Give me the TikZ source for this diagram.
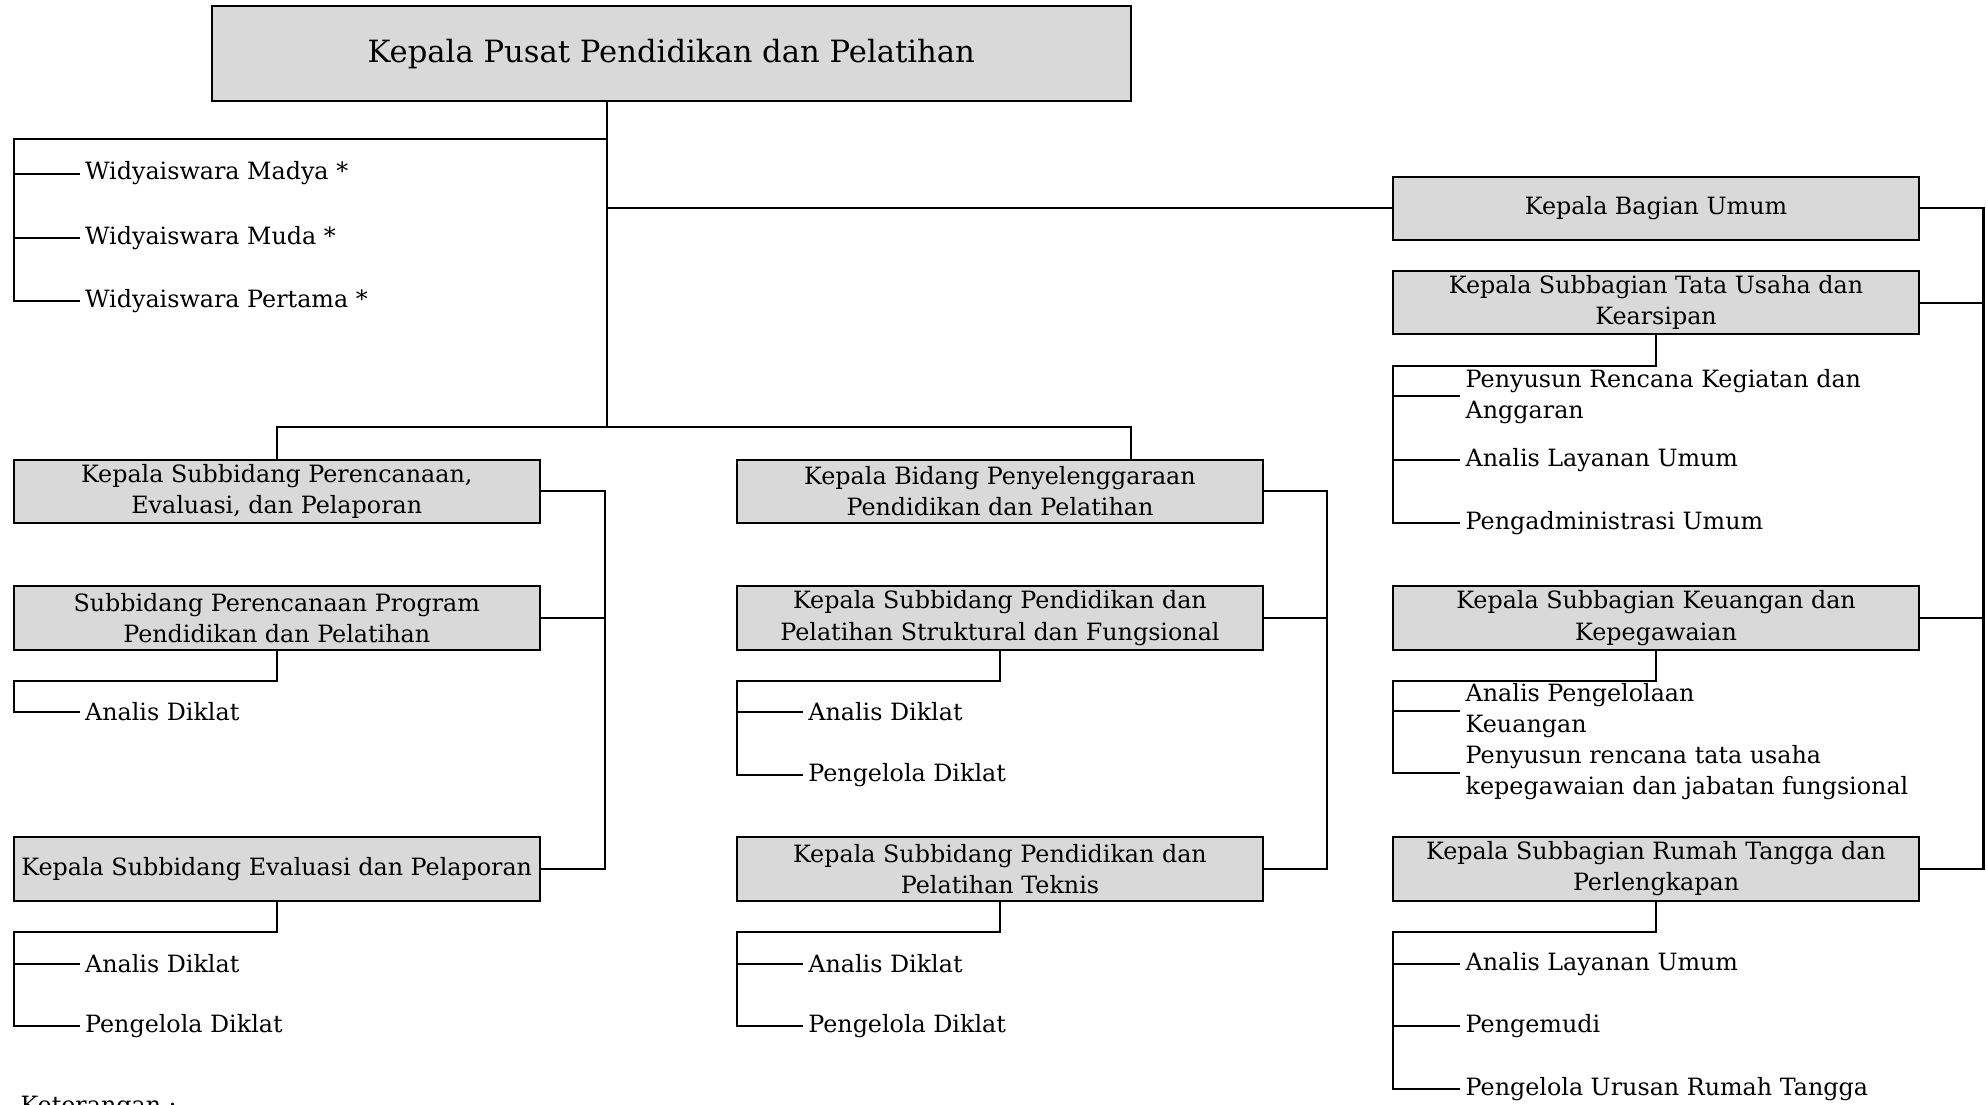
\documentclass[tikz,border=0pt]{standalone}
\usepackage{fontspec}
\setmainfont{DejaVu Serif}
\usetikzlibrary{calc}
\definecolor{boxgray}{HTML}{D9D9D9}
\newcommand{\bxfont}{\fontsize{18.8}{24.5}\selectfont}
\newcommand{\tpfont}{\fontsize{24.2}{28}\selectfont}
\newcommand{\lffont}{\fontsize{18.8}{24.5}\selectfont}
\begin{document}
\begin{tikzpicture}[x=1pt,y=-1pt,
  box/.style={draw, fill=boxgray, line width=1.6pt, minimum width=415pt, minimum height=50pt, inner sep=0pt, align=center, font=\bxfont},
  leaf/.style={anchor=west, inner xsep=4pt, inner ysep=0pt, align=left, font=\lffont},
  ln/.style={line width=1.6pt}]
\useasboundingbox (0,0) rectangle (1568,872);
% boxes
\node[box, minimum width=726pt, minimum height=75pt, font=\tpfont] (top) at (530,42.5) {Kepala Pusat Pendidikan dan Pelatihan};
\node[box] (bu)  at (1307.5,164.5) {Kepala Bagian Umum};
\node[box] (tu)  at (1307.5,239) {Kepala Subbagian Tata Usaha dan\\Kearsipan};
\node[box] (keu) at (1307.5,488) {Kepala Subbagian Keuangan dan\\Kepegawaian};
\node[box] (rt)  at (1307.5,686) {Kepala Subbagian Rumah Tangga dan\\Perlengkapan};
\node[box] (l1)  at (218.5,388) {Kepala Subbidang Perencanaan,\\Evaluasi, dan Pelaporan};
\node[box] (l2)  at (218.5,488) {Subbidang Perencanaan Program\\Pendidikan dan Pelatihan};
\node[box] (l3)  at (218.5,686) {Kepala Subbidang Evaluasi dan Pelaporan};
\node[box] (m1)  at (789.5,388) {Kepala Bidang Penyelenggaraan\\Pendidikan dan Pelatihan};
\node[box] (m2)  at (789.5,488) {Kepala Subbidang Pendidikan dan\\Pelatihan Struktural dan Fungsional};
\node[box] (m3)  at (789.5,686) {Kepala Subbidang Pendidikan dan\\Pelatihan Teknis};
% leaves
\node[leaf] (w1) at (63,137) {Widyaiswara Madya *};
\node[leaf] (w2) at (63,188) {Widyaiswara Muda *};
\node[leaf] (w3) at (63,238) {Widyaiswara Pertama *};
\node[leaf] (l2a) at (63,562) {Analis Diklat};
\node[leaf] (l3a) at (63,761) {Analis Diklat};
\node[leaf] (l3b) at (63,810) {Pengelola Diklat};
\node[leaf] (m2a) at (634,562) {Analis Diklat};
\node[leaf] (m2b) at (634,612) {Pengelola Diklat};
\node[leaf] (m3a) at (634,761) {Analis Diklat};
\node[leaf] (m3b) at (634,810) {Pengelola Diklat};
\node[leaf] (tu1) at (1153,313) {Penyusun Rencana Kegiatan dan\\Anggaran};
\node[leaf] (tu2) at (1153,363) {Analis Layanan Umum};
\node[leaf] (tu3) at (1153,413) {Pengadministrasi Umum};
\node[leaf] (keu1) at (1153,561) {Analis Pengelolaan\\Keuangan};
\node[leaf] (keu2) at (1153,610) {Penyusun rencana tata usaha\\kepegawaian dan jabatan fungsional};
\node[leaf] (rt1) at (1153,761) {Analis Layanan Umum};
\node[leaf] (rt2) at (1153,810) {Pengemudi};
\node[leaf] (rt3) at (1153,860) {Pengelola Urusan Rumah Tangga};
\node[anchor=north west, inner sep=0pt, font=\lffont] (ket) at (16,865) {Keterangan :};
% junction coordinates
\coordinate (wj) at (479,110);
\coordinate (wb) at (11,110);
\coordinate (hb) at (479,337);
\coordinate (mt) at (893,337);
\coordinate (lbx) at (478,388);
\coordinate (mbx) at (1048,388);
\coordinate (rbx) at (1566,164.5);
\coordinate (l2j) at (11,538);
\coordinate (l3j) at (11,736);
\coordinate (m2j) at (582,538);
\coordinate (m3j) at (582,736);
\coordinate (tuj) at (1100,289);
\coordinate (keuj) at (1100,538);
\coordinate (rtj) at (1100,736);
% main trunk
\draw[ln] (top.south -| hb) -- (hb);
\draw[ln] (wj) -- (wb) -- (wb |- w3.west) -- (w3.west);
\draw[ln] (wb |- w1.west) -- (w1.west);
\draw[ln] (wb |- w2.west) -- (w2.west);
\draw[ln] (hb |- bu.west) -- (bu.west);
\draw[ln] (l1.north) |- (hb) -- (mt) -- (mt |- m1.north);
% left column
\draw[ln] (l1.east) -- (lbx) |- (l3.east);
\draw[ln] (l2.east) -- (l2.east -| lbx);
\draw[ln] (l2.south) |- (l2j) -- (l2j |- l2a.west) -- (l2a.west);
\draw[ln] (l3.south) |- (l3j) -- (l3j |- l3b.west) -- (l3b.west);
\draw[ln] (l3j |- l3a.west) -- (l3a.west);
% middle column
\draw[ln] (m1.east) -- (mbx) |- (m3.east);
\draw[ln] (m2.east) -- (m2.east -| mbx);
\draw[ln] (m2.south) |- (m2j) -- (m2j |- m2b.west) -- (m2b.west);
\draw[ln] (m2j |- m2a.west) -- (m2a.west);
\draw[ln] (m3.south) |- (m3j) -- (m3j |- m3b.west) -- (m3b.west);
\draw[ln] (m3j |- m3a.west) -- (m3a.west);
% right column
\draw[ln] (bu.east) -- (rbx) |- (rt.east);
\draw[ln] (tu.east) -- (tu.east -| rbx);
\draw[ln] (keu.east) -- (keu.east -| rbx);
\draw[ln] (tu.south) |- (tuj) -- (tuj |- tu3.west) -- (tu3.west);
\draw[ln] (tuj |- tu1.west) -- (tu1.west);
\draw[ln] (tuj |- tu2.west) -- (tu2.west);
\draw[ln] (keu.south) |- (keuj) -- (keuj |- keu2.west) -- (keu2.west);
\draw[ln] (keuj |- keu1.west) -- (keu1.west);
\draw[ln] (rt.south) |- (rtj) -- (rtj |- rt3.west) -- (rt3.west);
\draw[ln] (rtj |- rt1.west) -- (rt1.west);
\draw[ln] (rtj |- rt2.west) -- (rt2.west);
\end{tikzpicture}
\end{document}
